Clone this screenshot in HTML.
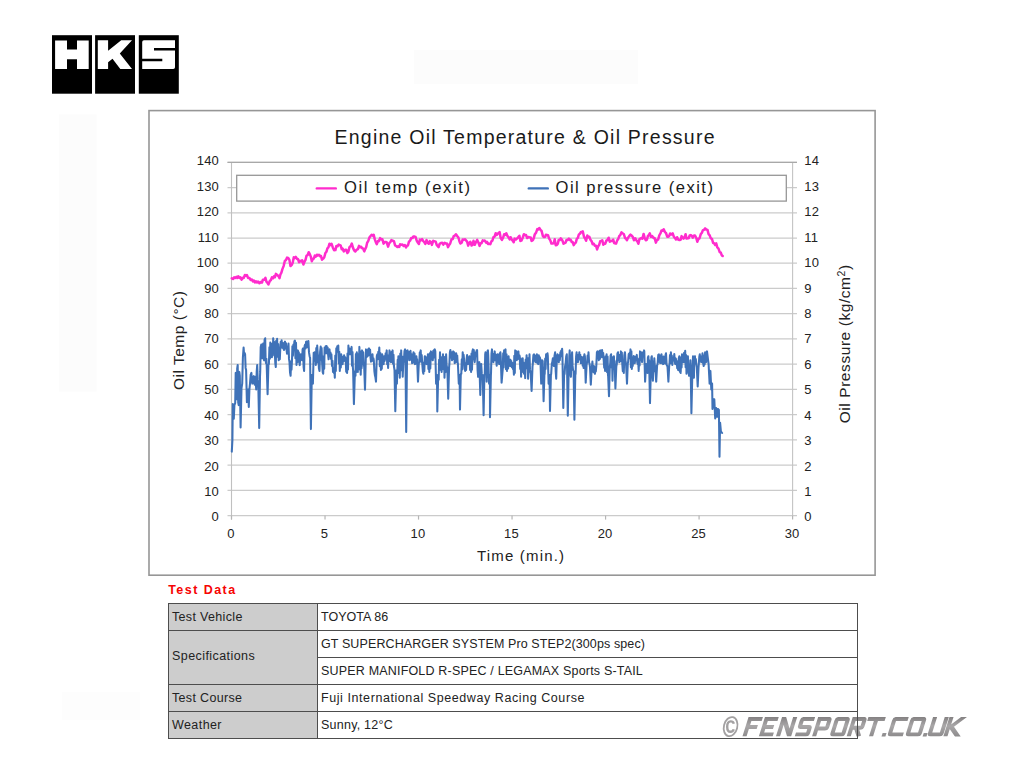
<!DOCTYPE html>
<html><head><meta charset="utf-8"><title>HKS Oil Temp</title>
<style>
html,body{margin:0;padding:0;background:#fff;}
body{width:1024px;height:768px;position:relative;overflow:hidden;font-family:"Liberation Sans",sans-serif;}
svg{position:absolute;left:0;top:0;}
svg text{font-family:"Liberation Sans",sans-serif;fill:#222;}
.ti{font-size:19.5px;fill:#1a1a1a;}
.lg{font-size:16.6px;fill:#1a1a1a;}
.tk{font-size:13px;fill:#222;letter-spacing:0.2px;}
.ax{font-size:15px;fill:#222;}
.ax2{font-size:15.5px;fill:#222;}
#td{position:absolute;left:168.2px;top:583.3px;font-size:12.5px;font-weight:bold;color:#f60404;line-height:15px;letter-spacing:1.45px;white-space:nowrap;}
table{position:absolute;left:168px;top:603px;border-collapse:collapse;width:690px;font-size:12.5px;color:#222;white-space:nowrap;}
td{border:1px solid #4d4d4d;height:26px;padding:0 0 0 3px;vertical-align:middle;}
td.h{background:#cdcdcd;width:145px;}
</style></head><body>
<svg width="1024" height="768" viewBox="0 0 1024 768">
<rect x="59" y="114.5" width="37.5" height="277" fill="#fcfcfc"/><rect x="414" y="50" width="224" height="34" fill="#fcfcfc"/><rect x="62" y="692" width="78" height="28" fill="#fdfdfd"/><rect x="149.0" y="110.6" width="726.1" height="464.6" fill="#fff" stroke="#969696" stroke-width="1.6"/>
<line x1="227.5" x2="797" y1="515.60" y2="515.60" stroke="#cbcbcb" stroke-width="1.25"/>
<line x1="227.5" x2="797" y1="490.36" y2="490.36" stroke="#cbcbcb" stroke-width="1.25"/>
<line x1="227.5" x2="797" y1="465.13" y2="465.13" stroke="#cbcbcb" stroke-width="1.25"/>
<line x1="227.5" x2="797" y1="439.89" y2="439.89" stroke="#cbcbcb" stroke-width="1.25"/>
<line x1="227.5" x2="797" y1="414.66" y2="414.66" stroke="#cbcbcb" stroke-width="1.25"/>
<line x1="227.5" x2="797" y1="389.42" y2="389.42" stroke="#cbcbcb" stroke-width="1.25"/>
<line x1="227.5" x2="797" y1="364.19" y2="364.19" stroke="#cbcbcb" stroke-width="1.25"/>
<line x1="227.5" x2="797" y1="338.95" y2="338.95" stroke="#cbcbcb" stroke-width="1.25"/>
<line x1="227.5" x2="797" y1="313.71" y2="313.71" stroke="#cbcbcb" stroke-width="1.25"/>
<line x1="227.5" x2="797" y1="288.48" y2="288.48" stroke="#cbcbcb" stroke-width="1.25"/>
<line x1="227.5" x2="797" y1="263.24" y2="263.24" stroke="#cbcbcb" stroke-width="1.25"/>
<line x1="227.5" x2="797" y1="238.01" y2="238.01" stroke="#cbcbcb" stroke-width="1.25"/>
<line x1="227.5" x2="797" y1="212.77" y2="212.77" stroke="#cbcbcb" stroke-width="1.25"/>
<line x1="227.5" x2="797" y1="187.54" y2="187.54" stroke="#cbcbcb" stroke-width="1.25"/>
<line x1="227.5" x2="797" y1="162.30" y2="162.30" stroke="#cbcbcb" stroke-width="1.25"/>
<line x1="231.5" x2="231.5" y1="162.3" y2="519.6" stroke="#c0c0c0" stroke-width="1.1"/>
<line x1="792.6" x2="792.6" y1="162.3" y2="515.6" stroke="#c4c4c4" stroke-width="1.1"/>
<line x1="227.5" x2="797" y1="162.3" y2="162.3" stroke="#a8a8a8" stroke-width="1.2"/>
<line x1="231.50" x2="231.50" y1="515.6" y2="519.6" stroke="#b5b5b5" stroke-width="1.2"/>
<line x1="325.02" x2="325.02" y1="515.6" y2="519.6" stroke="#b5b5b5" stroke-width="1.2"/>
<line x1="418.53" x2="418.53" y1="515.6" y2="519.6" stroke="#b5b5b5" stroke-width="1.2"/>
<line x1="512.05" x2="512.05" y1="515.6" y2="519.6" stroke="#b5b5b5" stroke-width="1.2"/>
<line x1="605.57" x2="605.57" y1="515.6" y2="519.6" stroke="#b5b5b5" stroke-width="1.2"/>
<line x1="699.08" x2="699.08" y1="515.6" y2="519.6" stroke="#b5b5b5" stroke-width="1.2"/>
<line x1="792.60" x2="792.60" y1="515.6" y2="519.6" stroke="#b5b5b5" stroke-width="1.2"/>
<polyline points="231.8,451.6 232.4,440.2 232.8,404.1 233.3,416.1 233.8,418.8 234.4,405.1 235.2,403.1 235.7,372.9 236.2,396.4 236.7,399.2 237.2,368.3 237.7,365.0 238.2,402.6 238.7,405.1 239.3,371.9 239.8,375.6 240.6,427.5 241.5,388.2 242.2,383.6 242.9,357.2 243.6,347.5 244.1,354.9 244.6,352.9 245.1,354.3 245.6,367.9 246.1,369.9 246.9,402.1 247.5,390.4 248.0,389.5 248.8,407.0 249.4,389.4 250.0,383.6 250.7,374.7 251.4,372.9 251.9,381.2 252.3,383.6 253.0,377.3 253.7,376.2 254.2,383.3 254.7,384.6 255.5,376.8 256.2,389.5 256.7,371.7 257.2,365.0 257.7,379.4 258.2,383.6 258.3,385.0 259.2,428.1 260.0,376.5 260.2,371.9 260.7,347.3 261.3,344.5 262.1,358.2 262.6,346.1 263.1,343.6 263.6,357.7 264.1,360.2 264.6,339.7 265.2,338.3 265.6,358.9 266.0,363.1 266.4,358.8 266.7,365.6 267.6,394.3 268.4,365.0 268.9,364.1 269.4,347.2 269.9,358.6 270.3,342.6 270.8,355.3 271.4,344.0 271.9,357.2 272.3,343.5 272.8,355.4 273.2,338.3 273.8,350.6 274.3,342.1 274.8,352.3 275.3,363.1 275.8,367.0 276.2,340.7 276.7,356.9 277.1,338.7 277.7,356.5 278.2,344.1 278.7,360.2 279.2,352.2 279.8,359.3 280.3,348.4 280.7,341.9 281.2,347.7 281.6,340.2 282.1,346.0 282.6,342.8 283.1,348.5 283.6,346.5 284.0,350.0 284.5,343.1 285.0,341.6 285.5,348.5 286.0,343.3 286.5,349.4 287.0,353.7 287.5,346.5 288.0,350.8 288.5,343.6 289.0,358.9 289.5,362.1 290.0,372.3 290.6,375.8 291.1,361.2 291.5,369.6 292.0,360.2 292.4,346.3 292.9,355.8 293.4,344.5 293.9,347.8 294.4,341.4 294.9,340.6 295.4,358.2 296.0,342.8 296.5,365.0 296.9,352.4 297.4,362.3 297.9,350.4 298.3,359.1 298.8,352.2 299.2,360.2 299.7,365.1 300.3,356.9 300.8,354.3 301.2,359.8 301.7,357.6 302.1,360.2 302.6,349.3 303.1,348.4 303.6,367.1 304.1,370.9 304.6,346.0 305.1,344.5 305.6,348.4 306.1,341.7 306.6,341.6 307.1,347.2 307.5,341.9 308.0,345.6 308.4,341.0 309.0,352.4 309.6,356.2 310.1,357.9 310.9,429.1 311.8,375.0 312.0,375.0 312.9,383.6 313.7,352.9 314.1,357.0 314.5,352.3 314.9,360.8 315.4,353.4 315.8,365.0 316.3,348.0 316.7,362.7 317.2,345.5 317.8,354.6 318.4,356.2 318.9,368.3 319.5,370.9 320.1,352.2 320.7,346.5 321.2,359.8 321.6,348.1 322.1,362.1 322.7,372.3 323.2,373.8 323.7,356.2 324.2,368.7 324.6,347.5 325.1,351.4 325.6,346.3 326.1,353.3 326.6,346.1 327.1,353.3 327.6,347.4 328.1,354.3 328.6,359.3 329.0,350.5 329.5,349.4 330.0,355.5 330.5,352.6 331.0,358.8 331.4,354.3 332.0,366.0 332.5,360.7 333.0,371.9 333.4,368.4 333.9,373.0 334.3,368.0 334.8,377.7 335.3,355.6 335.8,370.9 336.3,348.4 336.8,351.5 337.3,346.2 337.8,351.8 338.3,345.5 338.8,363.4 339.3,351.8 339.8,370.9 340.3,358.5 340.8,367.5 341.2,354.3 341.7,363.3 342.1,356.4 342.6,364.1 343.1,357.0 343.6,361.2 344.1,355.3 344.7,360.7 345.2,357.2 345.7,359.2 346.2,371.6 346.6,363.4 347.1,372.9 347.5,353.5 348.0,369.5 348.4,345.5 349.0,353.0 349.5,348.6 350.0,354.3 350.5,349.2 351.0,351.7 351.6,346.9 352.0,365.8 352.5,352.1 352.9,368.0 353.1,370.1 353.9,404.1 354.8,375.0 355.1,371.4 355.5,375.8 355.9,354.1 356.4,371.9 356.8,352.3 357.3,369.6 357.8,371.9 358.3,354.1 358.9,364.0 359.4,346.9 359.8,369.6 360.3,351.2 360.7,374.8 361.2,358.1 361.7,367.9 362.1,350.4 362.6,359.3 363.2,352.2 363.7,364.1 364.2,366.9 365.0,389.8 365.9,353.7 366.0,349.4 366.5,357.3 367.1,353.5 367.6,356.2 368.1,349.2 368.6,355.3 369.1,348.4 369.6,354.0 370.1,349.7 370.5,357.2 371.0,361.6 371.5,354.9 372.0,359.1 372.5,354.3 372.9,361.0 373.4,358.3 373.8,360.2 374.4,371.4 375.0,375.8 375.1,375.0 376.0,381.6 376.8,356.1 377.3,354.3 377.8,359.2 378.3,351.8 378.8,355.0 379.3,347.5 379.8,366.3 380.3,352.9 380.9,369.9 381.3,359.4 381.8,368.7 382.2,354.3 382.7,360.5 383.1,357.6 383.6,364.1 384.1,356.2 384.6,361.1 385.2,358.2 385.7,353.2 386.2,356.2 386.7,350.4 387.2,364.1 387.6,355.4 388.1,368.0 388.5,355.2 389.0,361.5 389.5,350.4 390.0,358.1 390.5,353.1 391.0,362.1 391.5,352.1 392.1,358.2 392.6,350.4 393.0,363.7 393.5,354.7 393.9,366.0 394.5,370.0 395.3,411.3 396.2,375.0 396.5,370.3 396.9,383.6 397.7,359.7 398.1,364.6 398.4,356.2 398.9,373.0 399.3,359.8 399.8,377.7 400.3,353.6 400.7,367.0 401.2,350.4 401.7,370.2 402.2,356.6 402.7,376.8 403.3,363.0 403.9,360.2 404.5,351.0 405.1,349.4 405.4,352.5 406.2,432.0 407.1,350.8 407.6,350.4 408.1,358.4 408.7,354.0 409.2,360.2 409.6,351.7 410.1,357.5 410.5,350.8 411.1,360.0 411.6,354.3 412.1,363.1 412.6,354.4 413.0,361.0 413.5,352.3 414.0,362.7 414.5,353.4 415.0,364.1 415.5,357.4 416.0,363.5 416.4,356.2 416.8,362.9 417.1,359.3 418.0,381.6 418.8,363.3 419.3,362.1 419.8,352.2 420.2,359.6 420.7,350.4 421.2,361.6 421.7,355.1 422.3,364.1 422.9,371.7 423.4,373.8 423.9,362.6 424.3,371.1 424.8,356.2 425.0,356.2 425.5,362.8 426.0,357.2 426.6,364.1 427.0,357.4 427.5,360.8 427.9,354.3 428.4,368.9 428.8,357.8 429.3,371.9 429.8,353.4 430.3,368.5 430.9,351.4 431.3,358.5 431.8,352.2 432.3,359.4 432.8,360.2 433.3,350.9 433.8,357.4 434.3,349.8 434.8,349.4 435.3,351.3 436.1,383.6 437.0,375.0 437.3,411.5 438.2,375.0 438.7,379.7 439.1,359.7 439.6,370.1 440.0,352.3 440.6,369.6 441.1,358.6 441.6,371.9 442.1,357.0 442.5,365.7 443.0,354.3 443.5,369.1 444.0,356.7 444.5,377.7 445.1,359.1 445.6,371.9 446.1,354.3 446.6,364.9 447.1,368.0 447.4,370.0 448.2,398.8 449.1,367.2 449.4,364.1 449.9,352.3 450.4,350.0 450.9,357.4 451.4,353.2 452.0,360.2 452.4,352.0 452.9,358.4 453.3,351.4 453.8,359.1 454.2,352.3 454.7,363.1 455.2,354.3 455.7,362.3 456.2,353.3 456.7,360.8 457.2,355.4 457.6,362.1 457.9,363.7 458.8,383.6 459.6,375.0 460.0,409.6 460.8,373.9 461.3,373.8 461.8,359.3 462.2,369.5 462.7,352.3 463.2,357.3 463.6,354.8 464.1,360.2 464.6,368.5 465.2,370.9 465.7,363.0 466.1,370.0 466.6,359.2 467.1,355.1 467.5,362.3 468.0,364.1 468.5,357.6 469.0,362.0 469.5,356.2 470.1,369.9 470.6,361.8 471.1,371.9 471.5,353.5 472.0,369.7 472.4,351.3 472.9,349.4 473.3,356.1 473.8,350.1 474.2,359.2 474.7,362.1 475.3,355.1 475.8,352.3 476.2,355.7 476.7,350.3 477.1,350.0 477.6,370.1 478.1,376.8 478.7,363.6 479.3,362.1 479.4,364.7 480.3,394.9 481.1,367.1 481.2,364.1 481.8,373.9 482.4,377.7 482.7,375.0 483.6,415.2 484.4,375.0 484.8,373.8 485.2,354.4 485.5,352.3 485.9,356.9 486.7,381.6 487.6,350.8 487.9,350.4 488.2,355.1 489.1,383.6 489.9,375.0 490.0,417.2 490.9,374.5 491.0,373.8 491.5,353.6 492.0,349.4 492.4,359.8 492.9,353.7 493.4,362.1 493.8,354.1 494.3,359.6 494.7,351.4 495.2,360.1 495.8,354.4 496.3,361.1 496.7,365.7 497.2,356.5 497.7,354.3 498.2,362.4 498.7,355.5 499.2,364.1 499.8,353.7 500.4,352.3 500.7,356.4 501.6,382.6 502.4,373.1 502.7,369.9 503.2,353.3 503.6,367.4 504.1,350.4 504.6,356.7 505.0,350.7 505.5,349.4 506.0,369.3 506.5,354.3 507.0,370.9 507.6,358.1 508.1,368.5 508.6,356.2 509.0,365.1 509.5,359.4 510.0,366.0 510.4,359.7 510.9,361.9 511.3,361.1 511.8,367.1 512.4,362.9 512.9,368.9 513.4,365.7 513.9,374.8 514.3,355.8 514.8,373.0 515.2,350.4 515.8,358.9 516.3,351.2 516.8,360.2 517.3,352.5 517.8,359.1 518.4,351.4 518.8,357.7 519.3,355.2 519.7,356.2 520.2,368.9 520.6,358.3 521.1,376.8 521.6,361.8 522.1,370.2 522.7,358.2 523.1,372.0 523.6,362.5 524.0,373.8 524.6,367.6 525.2,378.1 525.7,359.6 526.1,368.1 526.6,355.3 527.1,368.3 527.6,357.9 528.1,378.7 528.6,358.6 529.0,371.8 529.5,354.3 530.0,369.9 530.5,371.9 530.8,375.0 531.6,391.0 532.5,366.7 532.8,364.1 533.4,355.1 534.0,354.3 534.5,360.6 535.0,355.5 535.5,362.1 536.0,356.3 536.5,359.6 536.9,354.3 537.4,363.1 537.8,355.6 538.3,364.1 538.8,355.3 539.3,360.4 539.8,357.2 540.4,359.8 541.2,383.6 542.1,363.0 542.2,360.2 542.7,361.2 543.6,401.2 544.4,375.0 544.7,373.8 545.2,358.5 545.6,369.0 546.1,354.3 546.5,357.6 547.0,354.6 547.5,353.3 547.8,355.9 548.6,383.6 549.5,375.0 550.0,410.9 550.9,375.0 551.2,373.8 551.8,363.8 552.3,362.1 552.9,358.2 553.4,365.1 553.9,366.0 554.5,355.9 555.1,352.3 555.7,371.5 556.2,378.7 556.8,358.1 557.4,354.3 557.9,361.5 558.3,357.0 558.8,362.1 559.3,355.1 559.8,360.1 560.4,352.3 560.8,355.4 561.2,350.5 561.7,356.1 562.1,348.8 562.4,353.3 563.3,408.0 564.1,375.0 564.6,373.8 565.1,366.1 565.6,364.1 566.2,356.6 566.8,354.3 566.9,357.4 567.8,415.8 568.6,375.0 568.9,373.8 569.3,356.2 569.7,350.4 570.3,372.5 570.9,376.8 571.5,358.5 572.1,352.3 572.6,365.9 573.0,369.9 573.6,371.1 574.4,419.7 575.3,375.0 575.6,373.8 576.1,356.7 576.6,352.3 577.0,359.6 577.5,354.8 577.9,362.1 578.4,355.6 578.8,359.3 579.3,352.3 579.8,359.5 580.3,354.7 580.9,363.1 581.3,356.8 581.8,358.6 582.2,357.2 582.7,365.7 583.1,359.4 583.6,368.0 584.0,356.9 584.4,354.3 584.9,356.4 585.7,382.6 586.6,364.8 587.1,362.1 587.6,355.5 588.0,360.9 588.5,352.3 589.1,362.5 589.6,364.1 590.0,367.3 590.8,384.6 591.7,368.7 592.0,366.0 592.4,361.5 592.9,370.1 593.4,371.9 593.9,366.0 594.4,372.6 594.9,373.8 595.4,367.1 595.8,371.4 596.3,366.0 596.9,352.4 597.5,351.4 597.9,357.8 598.4,352.8 598.8,360.2 599.3,351.3 599.9,358.9 600.4,350.4 600.8,357.3 601.3,351.0 601.7,354.1 602.1,350.0 602.7,357.2 603.2,352.9 603.7,360.2 604.2,367.8 604.6,361.2 605.1,370.9 605.6,356.2 606.1,367.7 606.6,354.3 607.1,372.3 607.6,356.5 608.0,375.8 608.1,375.0 609.0,396.3 609.8,366.1 610.2,364.1 610.6,355.5 611.1,354.3 611.6,367.5 612.0,356.9 612.5,380.7 613.0,359.3 613.4,368.6 613.9,356.2 614.2,362.6 614.6,361.1 615.4,388.5 616.3,366.6 616.8,364.1 617.4,353.6 618.0,352.3 618.4,360.0 618.9,355.0 619.3,362.1 619.9,354.7 620.4,361.2 620.9,351.4 621.4,359.8 621.8,352.4 622.3,364.1 622.8,371.1 623.3,366.0 623.8,372.9 624.3,355.4 624.8,352.3 625.0,352.3 625.5,361.2 626.0,364.1 626.1,365.0 627.0,383.6 627.8,363.1 628.1,362.1 628.7,354.1 629.3,353.3 629.9,358.3 630.5,349.4 630.9,367.2 631.4,351.3 631.8,368.9 632.3,363.2 632.7,365.9 633.2,360.2 633.7,356.0 634.2,362.6 634.8,363.1 635.3,356.8 635.8,359.8 636.3,358.2 636.8,354.9 637.2,362.0 637.7,364.1 638.2,361.9 638.7,370.9 639.1,358.5 639.6,365.5 640.0,351.4 640.6,358.3 641.1,352.3 641.6,359.2 642.1,362.0 642.5,355.1 643.0,352.3 643.6,356.3 644.1,350.4 644.3,351.4 645.1,381.6 646.0,364.9 646.1,364.1 646.5,371.0 647.0,364.7 647.5,372.9 647.9,357.5 648.4,356.2 648.8,364.2 649.1,360.3 650.0,403.1 650.9,368.4 651.0,364.1 651.4,357.3 651.8,356.2 652.3,371.6 652.9,380.7 653.4,361.3 653.8,371.3 654.3,358.2 654.8,365.6 655.3,366.0 655.4,370.0 656.2,381.6 657.1,365.4 657.6,364.1 658.2,355.0 658.8,354.3 659.2,361.8 659.7,356.9 660.2,363.1 660.6,355.4 661.1,361.4 661.5,354.3 662.0,363.1 662.6,357.5 663.1,364.1 663.5,356.5 664.0,361.3 664.5,359.2 665.0,363.4 665.5,355.1 666.0,353.3 666.6,364.6 667.2,366.0 667.5,366.4 668.4,381.6 669.2,365.8 669.5,364.1 670.0,355.0 670.4,363.2 670.9,352.3 671.4,361.7 671.8,355.6 672.3,365.0 672.8,357.4 673.3,360.6 673.8,359.2 674.3,354.0 674.9,362.8 675.4,364.1 675.8,358.4 676.3,362.4 676.8,361.1 677.2,368.2 677.7,363.1 678.1,369.9 678.7,358.8 679.3,356.2 679.8,371.7 680.2,360.6 680.7,372.9 681.1,357.2 681.6,367.4 682.0,354.3 682.6,361.5 683.1,354.9 683.6,362.1 684.1,352.8 684.6,358.8 685.2,350.8 685.6,367.2 686.1,355.1 686.5,373.8 687.0,362.4 687.4,371.6 687.9,356.2 688.5,371.4 689.1,375.8 689.5,365.2 690.0,372.9 690.4,360.2 690.6,364.7 691.4,413.3 692.3,375.0 692.4,373.8 693.0,356.2 693.5,372.0 693.9,377.7 694.4,357.3 694.9,356.2 695.4,362.5 695.8,359.1 696.3,364.1 696.8,367.3 697.7,386.5 698.5,368.1 698.8,364.1 699.3,356.8 699.8,354.3 700.3,360.6 700.7,356.6 701.2,362.1 701.6,356.4 702.1,359.1 702.5,353.3 703.1,363.0 703.7,366.0 704.2,355.4 704.6,364.4 705.1,352.3 705.6,360.5 706.1,362.1 706.5,352.8 707.0,351.4 708.6,364.1 709.6,383.6 710.4,370.9 711.3,389.5 712.1,383.6 712.5,409.0 713.5,399.2 714.3,399.2 715.2,418.4 716.2,408.0 717.2,416.8 718.0,409.0 718.9,410.0 719.5,456.8 720.1,422.7 720.9,431.4 722.1,433.0" fill="none" stroke="#3f72b8" stroke-width="2.05" stroke-linejoin="round" stroke-linecap="round"/>
<polyline points="231.8,278.4 233.0,279.0 234.1,277.4 235.0,278.0 236.3,276.9 237.2,278.0 238.3,276.2 239.4,277.9 240.4,277.2 241.6,279.6 242.8,277.8 243.7,278.0 244.9,275.0 245.8,275.7 246.9,275.1 248.1,278.0 249.4,277.9 250.6,280.0 251.9,279.5 252.9,281.4 253.8,280.5 254.9,282.4 255.9,281.2 257.0,282.5 258.1,281.5 259.4,283.3 260.7,282.0 262.0,282.6 262.9,279.7 264.2,279.8 265.4,277.8 266.4,281.6 267.5,282.8 268.4,284.5 269.7,281.2 270.9,280.0 271.9,277.4 273.1,278.2 274.0,276.2 274.9,277.2 275.9,273.9 277.2,275.0 278.6,276.2 279.5,278.1 280.4,274.5 281.4,272.7 282.4,269.1 283.6,266.1 284.9,260.8 286.0,260.1 287.1,257.6 288.2,257.9 289.4,259.9 290.5,266.1 291.7,264.9 292.7,262.7 293.8,257.3 294.7,258.2 295.8,256.9 297.0,258.9 297.9,258.9 299.0,262.2 300.0,260.8 301.2,261.5 302.1,260.2 303.4,264.5 304.5,261.7 305.5,259.9 306.5,255.8 307.7,255.0 308.7,252.2 309.6,253.6 310.8,256.6 311.8,261.2 312.8,259.1 313.9,258.4 314.8,255.6 315.8,256.6 316.9,254.7 317.8,255.6 319.0,254.7 320.1,256.2 321.0,256.1 322.0,259.7 323.2,258.6 324.2,257.5 325.4,253.0 326.4,251.8 327.4,248.3 328.4,247.3 329.5,243.7 330.6,245.1 331.5,243.7 332.8,247.4 334.1,250.3 335.4,250.1 336.4,245.9 337.6,246.3 338.7,244.6 339.8,245.1 340.7,245.6 341.7,249.1 342.6,248.6 343.8,251.4 345.1,249.7 346.2,249.7 347.4,253.0 348.4,251.7 349.5,247.1 350.8,246.0 351.8,243.6 353.1,248.1 354.3,250.6 355.3,251.4 356.5,249.9 357.8,249.2 359.0,245.9 359.9,247.3 361.1,246.7 362.1,248.2 363.2,248.7 364.3,251.4 365.2,249.1 366.2,247.0 367.1,242.9 368.3,240.9 369.4,237.6 370.4,236.2 371.6,234.8 372.6,235.6 373.7,234.8 374.8,239.4 375.8,242.1 376.8,244.2 377.9,241.1 379.0,241.2 380.1,238.1 381.2,239.5 382.4,239.3 383.6,243.6 384.6,241.9 385.7,242.0 386.8,242.5 388.1,246.6 389.1,243.3 390.3,242.2 391.4,240.0 392.7,240.8 393.9,241.2 395.1,245.4 396.2,246.0 397.4,247.0 398.3,246.2 399.2,247.0 400.1,244.3 401.1,244.7 402.4,244.5 403.6,246.0 404.9,245.1 406.0,247.5 406.9,245.9 408.0,245.3 408.9,241.9 410.2,240.4 411.2,238.1 412.5,238.1 413.4,236.4 414.6,236.6 415.6,237.0 416.7,240.6 417.8,242.5 418.9,244.0 419.9,239.6 420.9,240.4 422.1,239.2 423.2,241.0 424.3,242.2 425.3,244.0 426.5,240.0 427.6,242.8 428.8,243.8 429.8,241.1 430.9,242.0 431.9,244.9 433.2,240.8 434.4,241.3 435.7,241.6 436.7,244.9 437.6,246.0 438.6,247.1 439.6,244.0 440.9,242.9 442.2,242.8 443.3,244.6 444.6,242.8 445.7,243.6 446.9,243.4 448.0,247.1 449.3,244.7 450.2,243.5 451.4,239.5 452.7,239.0 453.7,236.1 454.7,235.7 455.9,234.2 457.2,236.0 458.4,237.5 459.5,241.4 460.4,243.5 461.7,242.6 462.7,239.5 463.9,239.8 464.9,239.2 466.0,240.4 467.1,241.6 468.2,245.6 469.1,243.3 470.3,241.7 471.6,245.5 472.5,244.9 473.5,240.8 474.8,244.8 475.9,242.3 477.2,239.9 478.4,242.5 479.6,245.9 480.5,243.3 481.5,243.3 482.7,240.4 483.7,240.8 484.8,240.6 486.1,242.7 487.0,241.8 488.0,244.0 489.2,243.8 490.3,244.2 491.4,241.4 492.3,240.8 493.5,237.2 494.6,236.6 495.7,233.2 496.7,235.0 497.6,233.9 498.6,233.0 499.6,232.1 500.7,238.1 501.9,239.9 503.2,237.4 504.2,234.2 505.1,235.0 506.3,233.3 507.3,235.7 508.5,237.3 509.7,239.4 510.6,237.2 511.6,239.5 512.7,240.8 513.7,242.2 514.6,238.6 515.9,239.5 516.9,238.6 518.1,237.4 519.4,235.8 520.4,240.9 521.5,240.5 522.7,237.7 523.9,234.2 525.0,235.2 526.1,235.1 527.2,238.0 528.3,237.0 529.4,237.3 530.7,237.5 531.6,240.9 532.8,240.2 533.8,238.1 534.7,234.6 536.0,232.8 537.3,229.1 538.2,229.5 539.3,228.0 540.5,229.9 541.6,231.0 542.9,236.1 543.9,237.1 545.0,237.1 545.9,234.8 546.9,235.0 548.0,235.2 549.1,238.6 550.3,240.3 551.4,243.5 552.4,243.4 553.7,243.2 554.7,239.3 555.8,245.2 556.8,245.0 557.8,243.7 558.7,239.9 559.7,240.1 560.7,238.4 561.6,239.3 562.5,240.7 563.6,243.7 564.5,243.0 565.6,242.7 566.5,240.0 567.5,240.1 568.9,238.6 569.8,240.1 570.7,239.8 571.8,242.1 572.7,242.1 573.7,245.1 574.7,243.5 575.8,242.6 576.8,238.9 577.9,237.8 578.8,234.7 580.1,233.5 581.0,232.0 581.9,232.3 582.8,231.4 584.0,236.8 585.0,238.3 586.1,240.8 587.3,235.5 588.2,237.3 589.4,236.9 590.3,239.4 591.6,241.2 592.6,244.1 593.8,243.7 594.8,245.8 596.0,245.7 597.1,249.5 598.1,246.3 599.1,245.1 600.2,241.3 601.1,241.1 602.3,240.2 603.3,244.8 604.3,243.6 605.2,243.7 606.4,240.5 607.3,240.3 608.6,237.7 609.8,241.7 610.9,241.0 612.1,240.9 613.2,239.7 614.2,243.1 615.1,243.4 616.1,243.6 617.2,240.4 618.1,239.3 619.3,235.9 620.2,235.2 621.5,232.3 622.6,233.4 623.8,234.0 625.1,238.2 626.0,238.4 626.9,240.3 627.9,238.0 629.2,236.1 630.5,234.6 631.5,235.5 632.8,236.8 633.9,240.2 635.2,238.2 636.4,240.4 637.3,241.2 638.4,243.8 639.4,239.3 640.5,238.5 641.4,238.1 642.5,238.7 643.6,233.9 644.7,237.9 645.8,240.3 646.9,239.7 647.9,236.0 648.8,235.2 649.8,233.3 651.0,236.8 652.3,236.1 653.6,238.0 654.6,238.0 655.9,242.6 657.0,240.0 658.1,239.6 659.3,235.3 660.6,233.2 661.5,230.4 662.6,230.7 663.7,229.2 664.9,232.1 666.0,233.0 667.2,236.7 668.2,236.7 669.2,235.9 670.1,233.5 671.4,234.5 672.7,233.3 673.9,236.8 674.9,237.8 676.0,239.5 677.1,237.2 678.3,239.6 679.4,240.0 680.7,239.7 681.6,236.1 682.5,237.5 683.6,238.6 684.6,237.2 685.6,234.2 686.6,238.6 687.9,238.3 688.8,238.0 689.7,235.4 690.7,235.1 691.8,235.8 692.8,237.7 694.1,235.5 695.0,235.5 696.1,237.5 697.3,241.7 698.5,238.8 699.5,238.5 700.7,234.3 701.9,232.7 702.9,230.2 703.8,230.1 705.1,228.4 706.2,229.5 707.5,229.9 708.6,234.2 709.7,235.4 710.7,238.1 712.0,239.0 713.1,242.8 714.2,243.4 715.2,245.0 716.2,243.4 717.3,247.4 718.5,248.6 719.8,252.3 720.7,252.4 721.8,255.4 722.7,256.0" fill="none" stroke="#ff2ccd" stroke-width="2.5" stroke-linejoin="round" stroke-linecap="round"/>
<rect x="236.7" y="175.3" width="549.6" height="25.8" fill="#fff" stroke="#979797" stroke-width="1.3"/>
<line x1="316.8" x2="335.8" y1="188.4" y2="188.4" stroke="#ff2ccd" stroke-width="2.4" stroke-linecap="round"/>
<line x1="528.8" x2="547.8" y1="188.4" y2="188.4" stroke="#3f72b8" stroke-width="2.4" stroke-linecap="round"/>
<text x="344" y="192.7" class="lg" textLength="126" lengthAdjust="spacing">Oil temp (exit)</text>
<text x="555.5" y="192.7" class="lg" textLength="157.5" lengthAdjust="spacing">Oil pressure (exit)</text>
<text x="334.5" y="143.6" class="ti" textLength="380" lengthAdjust="spacing">Engine Oil Temperature &amp; Oil Pressure</text>
<text x="219" y="521.4" class="tk" text-anchor="end">0</text>
<text x="804.3" y="521.4" class="tk">0</text>
<text x="219" y="496.0" class="tk" text-anchor="end">10</text>
<text x="804.3" y="496.0" class="tk">1</text>
<text x="219" y="470.5" class="tk" text-anchor="end">20</text>
<text x="804.3" y="470.5" class="tk">2</text>
<text x="219" y="445.1" class="tk" text-anchor="end">30</text>
<text x="804.3" y="445.1" class="tk">3</text>
<text x="219" y="419.7" class="tk" text-anchor="end">40</text>
<text x="804.3" y="419.7" class="tk">4</text>
<text x="219" y="394.2" class="tk" text-anchor="end">50</text>
<text x="804.3" y="394.2" class="tk">5</text>
<text x="219" y="368.8" class="tk" text-anchor="end">60</text>
<text x="804.3" y="368.8" class="tk">6</text>
<text x="219" y="343.4" class="tk" text-anchor="end">70</text>
<text x="804.3" y="343.4" class="tk">7</text>
<text x="219" y="318.0" class="tk" text-anchor="end">80</text>
<text x="804.3" y="318.0" class="tk">8</text>
<text x="219" y="292.5" class="tk" text-anchor="end">90</text>
<text x="804.3" y="292.5" class="tk">9</text>
<text x="219" y="267.1" class="tk" text-anchor="end">100</text>
<text x="804.3" y="267.1" class="tk">10</text>
<text x="219" y="241.7" class="tk" text-anchor="end">110</text>
<text x="804.3" y="241.7" class="tk">11</text>
<text x="219" y="216.2" class="tk" text-anchor="end">120</text>
<text x="804.3" y="216.2" class="tk">12</text>
<text x="219" y="190.8" class="tk" text-anchor="end">130</text>
<text x="804.3" y="190.8" class="tk">13</text>
<text x="219" y="165.4" class="tk" text-anchor="end">140</text>
<text x="804.3" y="165.4" class="tk">14</text>
<text x="231.0" y="538.2" class="tk" text-anchor="middle">0</text>
<text x="324.5" y="538.2" class="tk" text-anchor="middle">5</text>
<text x="418.0" y="538.2" class="tk" text-anchor="middle">10</text>
<text x="511.5" y="538.2" class="tk" text-anchor="middle">15</text>
<text x="605.1" y="538.2" class="tk" text-anchor="middle">20</text>
<text x="698.6" y="538.2" class="tk" text-anchor="middle">25</text>
<text x="792.1" y="538.2" class="tk" text-anchor="middle">30</text>
<text x="477" y="561" class="ax" textLength="87" lengthAdjust="spacing">Time (min.)</text>
<text transform="translate(184.4,390) rotate(-90)" class="ax2" textLength="99" lengthAdjust="spacing">Oil Temp (°C)</text>
<text transform="translate(849.6,423.3) rotate(-90)" class="ax2" textLength="158.5" lengthAdjust="spacing">Oil Pressure (kg/cm<tspan dy="-5" font-size="10.5">2</tspan><tspan dy="5">)</tspan></text>
<g>
<rect x="52" y="35.2" width="40" height="58.5" fill="#000"/>
<rect x="95.1" y="35.2" width="39.9" height="58.5" fill="#000"/>
<rect x="138.8" y="35.2" width="40" height="58.5" fill="#000"/>
<path fill="#fff" d="M55.1 40.5H67V49.6H77V40.5H88.7V69H77V59.2H67V69H55.1Z"/>
<path fill="#fff" d="M97.8 40.3H108.1V50.7L121.2 40.3H132L119.8 53.4L132 69.1H120.3L112.5 58.8L108.1 62.2V69.1H97.8Z"/>
<path fill="#fff" d="M144 40.3H175V48.1H154V50.5H175V67.3Q175 69.1 173.2 69.1H142.2V61.3H162.3V58.8H142.2V42.1Q142.2 40.3 144 40.3Z"/>
</g>
<defs><clipPath id="wc"><rect x="-2" y="-19.6" width="30" height="19.6"/></clipPath><linearGradient id="wg" gradientUnits="userSpaceOnUse" x1="0" y1="-19.3" x2="0" y2="0"><stop offset="0" stop-color="#858283"/><stop offset="0.45" stop-color="#a9a7a8"/><stop offset="1" stop-color="#8d8b8c"/></linearGradient></defs>
<g transform="translate(742.4,736.5) skewX(-17.5)" fill="none" stroke="url(#wg)" stroke-width="4.1" stroke-linejoin="miter"><path transform="translate(0.00,0)" clip-path="url(#wc)" d="M2.05 0V-17.55H14.4M2.05 -9.5H11.9"/><path transform="translate(16.40,0)" clip-path="url(#wc)" d="M13.8 -17.55H2.05V-2.05H13.8M2.05 -9.5H11.8"/><path transform="translate(33.50,0)" clip-path="url(#wc)" d="M2.05 0V-19.6M13.149999999999999 0V-19.6M2.55 -18.1L12.649999999999999 -1.5"/><path transform="translate(52.30,0)" clip-path="url(#wc)" d="M14.3 -17.55H3.55Q2.05 -17.55 2.05 -16.05V-11.0Q2.05 -9.5 3.55 -9.5H10.75Q12.25 -9.5 12.25 -8.0V-3.55Q12.25 -2.05 10.75 -2.05H0"/><path transform="translate(69.60,0)" clip-path="url(#wc)" d="M2.05 0V-17.55H10.75Q12.25 -17.55 12.25 -16.05V-9.5Q12.25 -8.0 10.75 -8.0H2.05"/><path transform="translate(87.00,0)" clip-path="url(#wc)" d="M3.55 -17.55H11.55Q13.05 -17.55 13.05 -16.05V-3.55Q13.05 -2.05 11.55 -2.05H3.55Q2.05 -2.05 2.05 -3.55V-16.05Q2.05 -17.55 3.55 -17.55Z"/><path transform="translate(104.20,0)" clip-path="url(#wc)" d="M2.05 0V-17.55H11.149999999999999Q12.649999999999999 -17.55 12.649999999999999 -16.05V-10.3Q12.649999999999999 -8.8 11.149999999999999 -8.8H2.05M6.85 -8.8L12.349999999999998 0"/><path transform="translate(119.90,0)" clip-path="url(#wc)" d="M0 -17.55H17.4M8.7 -17.55V0"/><rect x="139.1" y="-3.6" width="3.9" height="3.6" fill="url(#wg)" stroke="none"/><path transform="translate(144.60,0)" clip-path="url(#wc)" d="M15.6 -17.55H3.55Q2.05 -17.55 2.05 -16.05V-3.55Q2.05 -2.05 3.55 -2.05H15.6"/><path transform="translate(162.60,0)" clip-path="url(#wc)" d="M3.55 -17.55H12.350000000000001Q13.850000000000001 -17.55 13.850000000000001 -16.05V-3.55Q13.850000000000001 -2.05 12.350000000000001 -2.05H3.55Q2.05 -2.05 2.05 -3.55V-16.05Q2.05 -17.55 3.55 -17.55Z"/><rect x="180.2" y="-3.6" width="3.9" height="3.6" fill="url(#wg)" stroke="none"/><path transform="translate(184.50,0)" clip-path="url(#wc)" d="M2.05 -19.6V-3.55Q2.05 -2.05 3.55 -2.05H12.25Q13.75 -2.05 13.75 -3.55V-19.6"/><path transform="translate(200.90,0)" clip-path="url(#wc)" d="M2.05 0V-19.6M16.2 -21.1L4.65 -9.8L16.0 1.5"/></g>
<g fill="none" stroke="#a3a1a2"><ellipse cx="730.6" cy="726.6" rx="6.7" ry="9.7" stroke-width="1.8" transform="rotate(14 730.6 726.6)"/><path d="M733.8 723.8Q733.2 721.4 730.7 721.4Q727.2 721.4 727.2 726.7Q727.2 731.8 730.5 731.8Q733.1 731.8 733.7 729.3" stroke-width="2.4"/></g>
</svg>
<div id="td">Test Data</div>
<table>
<tr><td class="h" style="letter-spacing:.33px">Test Vehicle</td><td style="letter-spacing:.04px">TOYOTA 86</td></tr>
<tr><td class="h" rowspan="2" style="letter-spacing:.43px;padding-bottom:3px">Specifications</td><td style="letter-spacing:.107px">GT SUPERCHARGER SYSTEM Pro STEP2(300ps spec)</td></tr>
<tr><td style="letter-spacing:.184px">SUPER MANIFOLD R-SPEC / LEGAMAX Sports S-TAIL</td></tr>
<tr><td class="h" style="letter-spacing:.33px">Test Course</td><td style="letter-spacing:.575px">Fuji International Speedway Racing Course</td></tr>
<tr><td class="h" style="letter-spacing:.42px">Weather</td><td style="letter-spacing:.236px">Sunny, 12°C</td></tr>
</table>
</body></html>
